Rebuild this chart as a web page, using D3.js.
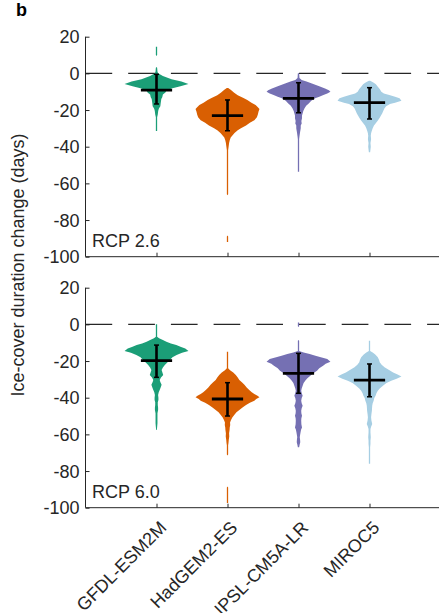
<!DOCTYPE html>
<html>
<head>
<meta charset="utf-8">
<script src="https://cdn.jsdelivr.net/npm/d3@7"></script>
<style>
  body { margin: 0; background: #fff; }
  svg { display: block; font-family: "Liberation Sans", Arial, Helvetica, sans-serif; }
</style>
</head>
<body>
<div id="chart"></div>
<script>
// ------ Data ------ //
const models = ["GFDL-ESM2M", "HadGEM2-ES", "IPSL-CM5A-LR", "MIROC5"];
const colors = ["#1b9e77", "#d95f02", "#7570b3", "#a6cee3"];
const scenarios = ["RCP 2.6", "RCP 6.0"];
const yTicks = [20, 0, -20, -40, -60, -80, -100];

// violin profiles: [change in days, relative density]
const gfdl26 = [[14.5,0.02],[10,0.02],[9.5,0],[3.5,0],[3,0.02],[1,0.03],[0,0.05],[-1.5,0.2],[-3.2,0.47],[-4.5,0.78],[-5.8,1.0],[-7,0.75],[-8.2,0.47],[-9.5,0.31],[-10.5,0.28],[-11.5,0.2],[-13,0.18],[-14,0.15],[-16.5,0.13],[-18,0.12],[-19,0.08],[-20,0.06],[-21,0.05],[-22.4,0.04],[-24,0.02],[-31.5,0.02]];
const hadgem26 = [[-8,0.02],[-9,0.1],[-10.5,0.2],[-12,0.32],[-13.5,0.5],[-14.5,0.62],[-16,0.75],[-17.3,0.88],[-18.5,0.95],[-19.5,1.0],[-21,0.97],[-22.5,0.95],[-24,0.92],[-25.6,0.84],[-27,0.7],[-28.4,0.58],[-30,0.42],[-31,0.32],[-32.5,0.22],[-33.8,0.16],[-35,0.1],[-36.5,0.07],[-38,0.05],[-40,0.035],[-42,0.02],[-66,0.02],[-66.5,0],[-88.5,0],[-89,0.02],[-92,0.02]];
const ipsl26 = [[0,0.02],[-2.5,0.03],[-3.6,0.1],[-4.5,0.25],[-5.5,0.42],[-7,0.65],[-8.2,0.83],[-9.2,0.95],[-10,1.0],[-11,0.9],[-11.8,0.78],[-12.7,0.65],[-13.6,0.52],[-15,0.4],[-16.4,0.32],[-17.7,0.24],[-19,0.19],[-20.5,0.15],[-21.8,0.13],[-23,0.11],[-24.5,0.11],[-26,0.09],[-27.3,0.1],[-28.5,0.07],[-30,0.07],[-31,0.06],[-32,0.05],[-34.5,0.03],[-36,0.02],[-53.6,0.02]];
const miroc26 = [[-4,0.02],[-5,0.12],[-6,0.2],[-7.3,0.26],[-8.5,0.32],[-10,0.37],[-11,0.45],[-11.8,0.62],[-12.7,0.8],[-13.6,0.94],[-15,1.0],[-16,0.8],[-16.7,0.64],[-18,0.52],[-19,0.47],[-20.5,0.43],[-21.8,0.4],[-23,0.36],[-24.5,0.31],[-26,0.25],[-27.3,0.19],[-28.5,0.14],[-30,0.1],[-31.5,0.07],[-32.7,0.05],[-34,0.04],[-36,0.05],[-38,0.03],[-40,0.04],[-43,0.02]];

const gfdl60 = [[0,0.02],[-6.8,0.02],[-7.6,0.08],[-8.5,0.2],[-9.5,0.31],[-10.5,0.45],[-11.3,0.62],[-12.2,0.75],[-13.1,0.9],[-14.5,1.0],[-15.5,0.8],[-16.7,0.63],[-18,0.5],[-19.4,0.42],[-21,0.33],[-22.2,0.26],[-23.5,0.2],[-24.9,0.16],[-26,0.18],[-27.6,0.21],[-29,0.14],[-30.3,0.1],[-31.5,0.12],[-33,0.16],[-34.5,0.13],[-35.8,0.1],[-37,0.07],[-38.5,0.05],[-40,0.06],[-41.2,0.06],[-42.5,0.04],[-44,0.04],[-45.5,0.05],[-46.7,0.05],[-48.5,0.03],[-50.3,0.03],[-52,0.03],[-54,0.03],[-56,0.02],[-57.6,0.01]];
const hadgem60 = [[-14.9,0.02],[-24,0.02],[-25,0.08],[-26.3,0.18],[-27.6,0.26],[-29,0.32],[-30.3,0.37],[-31.6,0.45],[-33,0.53],[-34.4,0.6],[-35.8,0.68],[-37,0.76],[-38,0.84],[-39,0.94],[-39.8,1.0],[-40.7,0.9],[-41.6,0.84],[-42.8,0.7],[-44,0.58],[-45.3,0.47],[-46.7,0.37],[-48,0.28],[-49.4,0.21],[-50.8,0.15],[-52.1,0.11],[-53.5,0.08],[-54.9,0.085],[-56.2,0.07],[-57.6,0.065],[-59.4,0.05],[-61.2,0.055],[-63,0.04],[-64.8,0.03],[-66,0.02],[-71,0.02],[-71.5,0],[-88.5,0],[-89,0.02],[-97.4,0.02]];
const ipsl60 = [[1,0.02],[-1,0.02],[-1.5,0],[-8.5,0],[-9,0.02],[-14.5,0.02],[-15.3,0.16],[-16.2,0.35],[-17.1,0.53],[-18,0.7],[-18.9,0.9],[-20.4,1.0],[-21.5,0.85],[-22.5,0.78],[-24,0.65],[-25.3,0.58],[-26.5,0.47],[-28,0.37],[-29.5,0.27],[-30.7,0.21],[-32,0.16],[-33.5,0.13],[-35,0.1],[-36.2,0.085],[-37.5,0.1],[-38.9,0.13],[-40.2,0.1],[-41.6,0.085],[-43,0.1],[-44.4,0.13],[-45.8,0.1],[-47.1,0.085],[-48.5,0.09],[-49.8,0.11],[-51.2,0.09],[-52.5,0.085],[-54.5,0.09],[-56.2,0.11],[-57.5,0.08],[-58.9,0.065],[-60.3,0.05],[-61.6,0.04],[-63,0.05],[-64.3,0.055],[-65.7,0.035],[-67,0.02]];
const miroc60 = [[-9,0.02],[-14.5,0.02],[-15.3,0.1],[-16.5,0.18],[-18,0.26],[-19.5,0.3],[-20.7,0.32],[-22,0.38],[-23.4,0.47],[-24.8,0.6],[-26.2,0.74],[-27.4,0.88],[-28.5,1.0],[-29.6,0.85],[-30.7,0.68],[-32,0.53],[-33.5,0.42],[-35,0.32],[-36.2,0.26],[-37.5,0.22],[-38.9,0.19],[-40.2,0.15],[-41.6,0.13],[-43,0.1],[-44.4,0.085],[-45.8,0.08],[-47.1,0.075],[-49,0.06],[-50.7,0.05],[-52.5,0.06],[-54.4,0.085],[-55.8,0.05],[-57.1,0.03],[-59,0.03],[-61.6,0.04],[-63.5,0.03],[-65.3,0.03],[-67,0.02],[-76,0.02]];

// means and spread bars
const mean26 = [-9.1, -23.1, -13.6, -16.0];
const low26 = [-16.7, -31.3, -21.5, -24.9];
const high26 = [-0.5, -14.5, -5.1, -7.8];
const mean60 = [-19.8, -40.7, -26.7, -30.4];
const low60 = [-28.9, -50.0, -37.6, -39.5];
const high60 = [-11.3, -31.8, -15.8, -21.6];

// ------ Drawing ------ //
const width = 439, height = 613;
const ink = "#262626";
const fontSize = 18;
const svg = d3.select("#chart")
  .append("svg")
    .attr("width", width)
    .attr("height", height);

const x = d3.scaleLinear().domain([0, 5]).range([85.5, 440.5]);
const halfWidth = 0.45; // max violin half-width, in category units

const panels = [
  { label: scenarios[0], top: 36.7, violins: [gfdl26, hadgem26, ipsl26, miroc26], mean: mean26, low: low26, high: high26, xLabels: false },
  { label: scenarios[1], top: 287.7, violins: [gfdl60, hadgem60, ipsl60, miroc60], mean: mean60, low: low60, high: high60, xLabels: true }
];

panels.forEach(p => {
  const y = d3.scaleLinear().domain([-100, 20]).range([p.top + 220, p.top]);
  const g = svg.append("g");

  // zero line
  g.append("line")
    .attr("x1", x(0)).attr("x2", x(5))
    .attr("y1", y(0)).attr("y2", y(0))
    .attr("stroke", ink)
    .attr("stroke-width", 1.2)
    .attr("stroke-dasharray", "26.7,16");

  // violins
  p.violins.forEach((v, i) => {
    const area = d3.area()
      .y(d => y(d[0]))
      .x0(d => x(i + 1 - d[1] * halfWidth))
      .x1(d => x(i + 1 + d[1] * halfWidth));
    g.append("path")
      .attr("d", area(v))
      .attr("fill", colors[i]);
  });

  // mean and spread
  models.forEach((m, i) => {
    const cx = x(i + 1);
    g.append("line")
      .attr("x1", cx).attr("x2", cx)
      .attr("y1", y(p.high[i])).attr("y2", y(p.low[i]))
      .attr("stroke", "black").attr("stroke-width", 2.6);
    [p.high[i], p.low[i]].forEach(c => {
      g.append("line")
        .attr("x1", cx - 2.5).attr("x2", cx + 2.5)
        .attr("y1", y(c)).attr("y2", y(c))
        .attr("stroke", "black").attr("stroke-width", 1.5);
    });
    g.append("line")
      .attr("x1", x(i + 1 - 0.22)).attr("x2", x(i + 1 + 0.22))
      .attr("y1", y(p.mean[i])).attr("y2", y(p.mean[i]))
      .attr("stroke", "black").attr("stroke-width", 2.8);
  });

  // y axis
  const yAxis = g.append("g")
    .attr("transform", `translate(${x(0)},0)`)
    .call(d3.axisRight(y).tickValues(yTicks).tickSize(4).tickFormat(""));
  yAxis.selectAll("path, line").attr("stroke", ink);
  yAxis.select(".domain").attr("d", `M0,${y(20)}V${y(-100)}`);
  g.selectAll(".ylab")
    .data(yTicks)
    .join("text")
      .attr("x", x(0) - 6)
      .attr("y", d => y(d))
      .attr("dy", "0.36em")
      .attr("text-anchor", "end")
      .attr("font-size", fontSize)
      .attr("fill", ink)
      .text(d => d);

  // x axis
  const xAxis = g.append("g")
    .attr("transform", `translate(0,${y(-100)})`)
    .call(d3.axisTop(x).tickValues([1, 2, 3, 4]).tickSize(4).tickFormat(""));
  xAxis.selectAll("path, line").attr("stroke", ink);
  xAxis.select(".domain").attr("d", `M${x(0)},0H${x(5)}`);

  if (p.xLabels) {
    models.forEach((m, i) => {
      g.append("text")
        .attr("transform", `translate(${x(i + 1) + 11},${y(-100) + 21}) rotate(-45)`)
        .attr("text-anchor", "end")
        .attr("font-size", fontSize)
        .attr("fill", ink)
        .text(m);
    });
  }

  // scenario label
  g.append("text")
    .attr("x", 92)
    .attr("y", y(-100) - 10)
    .attr("font-size", fontSize)
    .attr("fill", ink)
    .text(p.label);
});

// y label
svg.append("text")
  .attr("transform", "translate(24,265) rotate(-90)")
  .attr("text-anchor", "middle")
  .attr("font-size", fontSize)
  .attr("fill", ink)
  .text("Ice-cover duration change (days)");

// panel letter
svg.append("text")
  .attr("x", 16)
  .attr("y", 16)
  .attr("font-size", 18)
  .attr("font-weight", "bold")
  .attr("fill", "black")
  .text("b");
</script>
</body>
</html>
